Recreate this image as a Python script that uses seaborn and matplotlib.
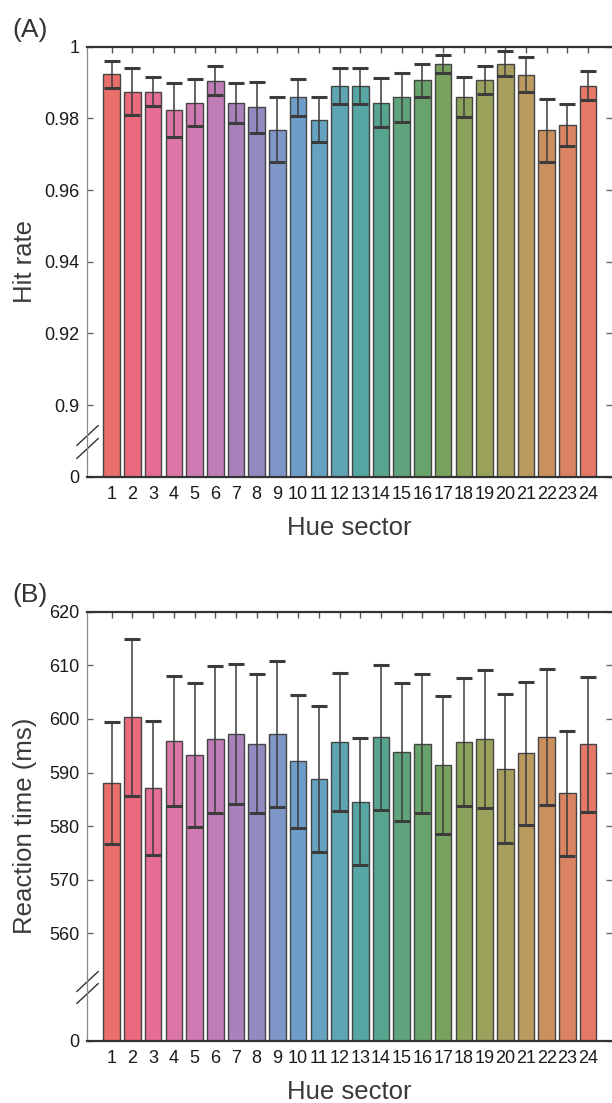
import numpy as np
import pandas as pd
import matplotlib
matplotlib.use("Agg")
import matplotlib.pyplot as plt
import seaborn as sns

# hue sectors 1..24
sectors = [str(i) for i in range(1, 25)]

hit_rate = [0.9923, 0.9875, 0.9875, 0.9824, 0.9844, 0.9905, 0.9844, 0.9831,
            0.9769, 0.9859, 0.9797, 0.9891, 0.9891, 0.9844, 0.9859, 0.9906,
            0.9953, 0.9859, 0.9906, 0.9953, 0.9922, 0.9767, 0.9782, 0.9891]
hit_err = [0.0038, 0.0065, 0.0041, 0.0075, 0.0065, 0.0040, 0.0056, 0.0071,
           0.0091, 0.0052, 0.0064, 0.0051, 0.0050, 0.0068, 0.0068, 0.0045,
           0.0025, 0.0056, 0.0039, 0.0034, 0.0049, 0.0088, 0.0058, 0.0040]

rt = [588.0, 600.3, 587.2, 595.9, 593.3, 596.2, 597.2, 595.4, 597.2, 592.1,
      588.8, 595.7, 584.6, 596.6, 593.9, 595.4, 591.4, 595.7, 596.3, 590.7,
      593.6, 596.7, 586.1, 595.3]
rt_err = [11.4, 14.7, 12.5, 12.1, 13.5, 13.7, 13.0, 13.0, 13.6, 12.4,
          13.7, 12.9, 11.9, 13.5, 12.9, 12.9, 12.8, 12.0, 12.9, 13.9,
          13.3, 12.7, 11.6, 12.6]

hit_ticks = [0.88, 0.90, 0.92, 0.94, 0.96, 0.98, 1.0]
hit_ticklabels = ["0", "0.9", "0.92", "0.94", "0.96", "0.98", "1"]
rt_ticks = [540, 560, 570, 580, 590, 600, 610, 620]
rt_ticklabels = ["0", "560", "570", "580", "590", "600", "610", "620"]

# one colour per hue sector
colors = ["#E96F6B", "#EC6A7F", "#E66D94", "#DB76A6", "#CF7AB2", "#BE7DB6",
          "#A981BC", "#938AC2", "#7E96C8", "#6E9DC9", "#65A3C1", "#5DA5B3",
          "#56A6A3", "#57A58F", "#5EA37B", "#69A36C", "#7AA25F", "#8BA25B",
          "#9AA25B", "#A79E5E", "#BA9A5E", "#CA915F", "#DB8462", "#E67868"]

sns.set_theme(style="white")
plt.rcParams['font.family'] = ['Liberation Sans', 'DejaVu Sans']

df = pd.DataFrame({"sector": sectors, "hit": hit_rate, "hit_err": hit_err,
                   "rt": rt, "rt_err": rt_err})

fig = plt.figure(figsize=(6.12, 11.03), dpi=100)
ax_a = fig.add_axes([0.1422, 0.5678, 0.8578, 0.3898])
ax_b = fig.add_axes([0.1422, 0.0565, 0.8578, 0.3889])

panels = [
    (ax_a, "hit", "hit_err", (0.88, 1.0), hit_ticks, hit_ticklabels, "Hit rate", "(A)", [0.096, 0.066]),
    (ax_b, "rt", "rt_err", (540, 620), rt_ticks, rt_ticklabels, "Reaction time (ms)", "(B)", [0.139, 0.110]),
]

for ax, col, ecol, ylim, ticks, ticklabels, ylabel, tag, brk in panels:
    sns.barplot(data=df, x="sector", y=col, hue="sector", palette=colors, legend=False,
                saturation=1, errorbar=None, width=0.8, edgecolor="#454545",
                linewidth=1.0, ax=ax)
    ax.errorbar(np.arange(len(df)), df[col], yerr=df[ecol], fmt="none",
                ecolor="#3c3c3c", elinewidth=1.1, capsize=6, capthick=2.2, zorder=3)

    ax.set_xlim(-1.19, 24.15)
    ax.set_ylim(*ylim)
    ax.set_yticks(ticks)
    ax.set_yticklabels(ticklabels)

    ax.tick_params(axis="x", bottom=False, top=True, labelbottom=True, direction="in",
                   length=4.3, width=1.0, color="#555555", pad=7, labelsize=13, labelcolor="#1a1a1a")
    ax.tick_params(axis="y", left=True, right=True, direction="in", length=4.3, width=1.0,
                   color="#666666", pad=5.5, labelsize=13, labelcolor="#1a1a1a")

    for side in ["top", "bottom"]:
        ax.spines[side].set_color("#333333")
        ax.spines[side].set_linewidth(1.6)
    ax.spines["left"].set_color("#8a8a8a")
    ax.spines["left"].set_linewidth(0.9)
    ax.spines["right"].set_visible(False)

    ax.set_xlabel("Hue sector", fontsize=18.5, color="#3a3a3a")
    ax.xaxis.set_label_coords(0.5, -0.092)
    ax.set_ylabel(ylabel, fontsize=18.5, color="#3a3a3a")
    ax.yaxis.set_label_coords(-0.095, 0.5)

    ax.text(-0.142, 1.04, tag, transform=ax.transAxes, fontsize=19, color="#333333",
            ha="left", va="center")

    # axis break marks on the left spine
    ax.plot([0, 0], brk, transform=ax.transAxes, marker=[(-1, -0.93), (1, 0.93)],
            markersize=16, linestyle="none", color="#333333", mec="#333333", mew=1.0,
            clip_on=False)

fig.savefig("out.png", dpi=100)
